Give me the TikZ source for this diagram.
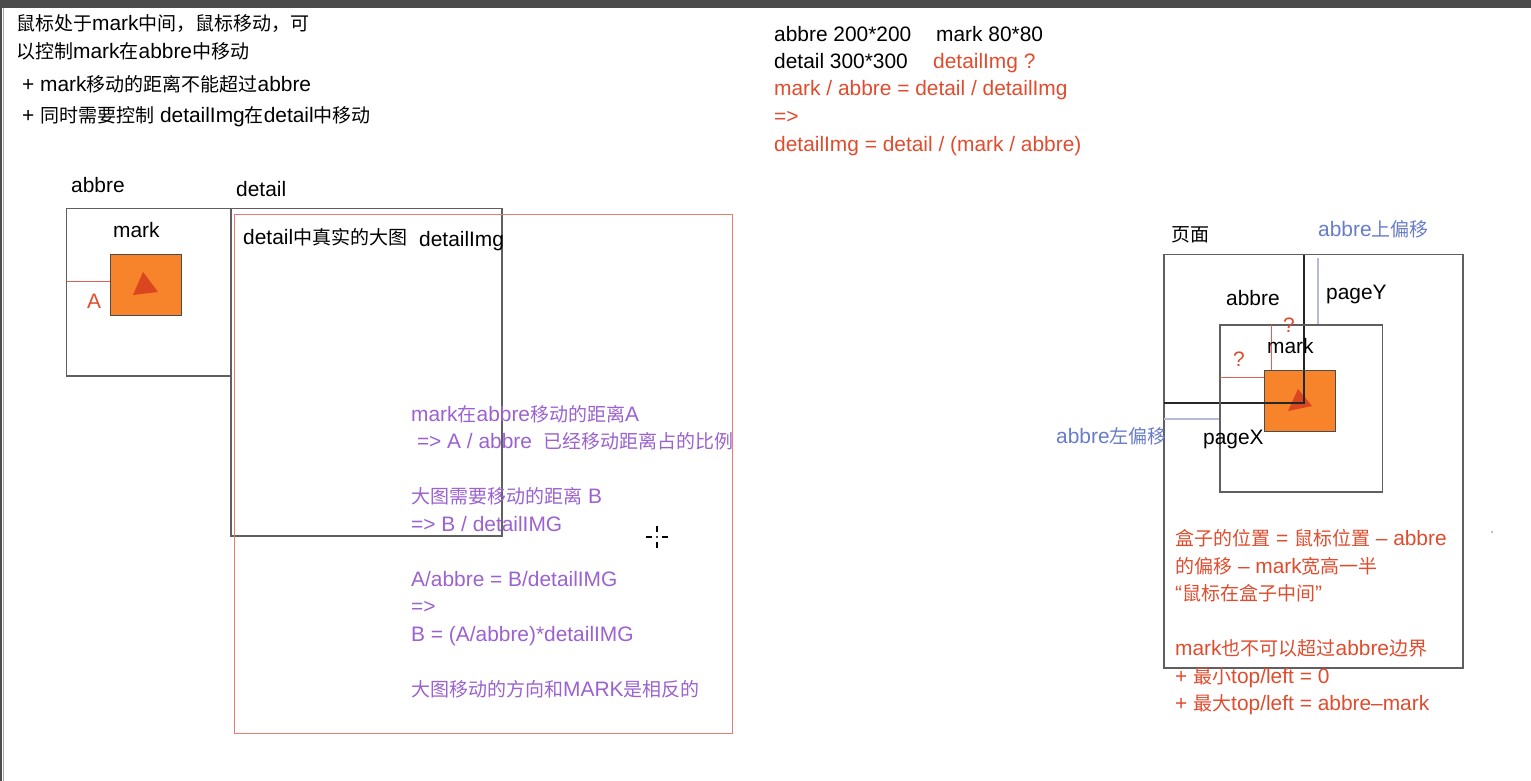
\documentclass[tikz,border=0pt]{standalone}
\usepackage{fontspec}
\setmainfont{Liberation Sans}[Scale=1.1]
\newfontfamily\cjk{Noto Sans CJK SC}
\XeTeXinterchartokenstate=1
\newXeTeXintercharclass\CJKcls
\count255="4E00
\loop\XeTeXcharclass\count255=\CJKcls \advance\count255 by 1 \ifnum\count255<"A000 \repeat
\XeTeXcharclass"FF0C=\CJKcls
\XeTeXinterchartoks 0 \CJKcls={\begingroup\cjk}
\XeTeXinterchartoks 4095 \CJKcls={\begingroup\cjk}
\XeTeXinterchartoks \CJKcls 0={\endgroup}
\XeTeXinterchartoks \CJKcls 4095={\endgroup}
\definecolor{txtred}{RGB}{224,76,46}
\definecolor{txtpurple}{RGB}{155,98,208}
\definecolor{txtblue}{RGB}{104,124,200}
\definecolor{boxgray}{RGB}{95,95,95}
\definecolor{boxred}{RGB}{230,125,115}
\definecolor{linered}{RGB}{225,95,85}
\definecolor{lineblue}{RGB}{180,186,215}
\definecolor{markorange}{RGB}{247,131,42}
\definecolor{tri}{RGB}{218,70,32}
\definecolor{topbar}{RGB}{75,75,75}
\tikzset{
  txt/.style={inner sep=0pt, anchor=base west, align=left, font=\fontsize{19}{27.5}\selectfont},
  frame/.style={draw=boxgray, line width=1.1pt},
  markbox/.style={draw=black!70, line width=1pt, fill=markorange},
  tripath/.style={fill=tri, draw=none},
}
\begin{document}
\begin{tikzpicture}[x=1pt,y=-1pt]
\fill[white] (0,0) rectangle (1531,781);
\useasboundingbox (0,0) rectangle (1531,781);
% window chrome
\fill[topbar] (0,0) rectangle (1531,8);
\fill[topbar] (0,8) rectangle (2,781);
\draw[black!35, line width=0.8pt] (3.5,8) -- (3.5,781);

% top-left notes (base anchor = last line)
\node[txt] (n1) at (16,58.5) {鼠标处于mark中间，鼠标移动，可\\以控制mark在abbre中移动};
\node[txt] (n2) at (22,91.5) {+ mark移动的距离不能超过abbre};
\node[txt] (n3) at (22,122.5) {+ 同时需要控制 detailImg在detail中移动};

% top-middle notes
\node[txt] (s1) at (774,41.5) {abbre 200*200};
\node[txt] (s2) at (936,41.5) {mark 80*80};
\node[txt] (s3) at (774,68.5) {detail 300*300};
\node[txt, text=txtred] (s4) at (933,68.5) {detailImg ?};
\node[txt, text=txtred] (s5) at (774,151) {mark / abbre = detail / detailImg\\=>\\detailImg = detail / (mark / abbre)};

% left diagram
\node[txt] (labA) at (71,192.5) {abbre};
\node[txt] (labD) at (236,196.5) {detail};
\draw[frame] (66.5,208.5) rectangle (231,376) coordinate (abbreBR);
\draw[frame] (231,208.5) rectangle (502,536);
\draw[draw=boxred, line width=1pt] (234.5,214.5) rectangle (732,733.5);
\node[txt] (labM) at (113,237.5) {mark};
\draw[linered, line width=0.8pt] (67,281.5) -- (110,281.5);
\node[txt, text=txtred] (labAA) at (87,308.5) {A};
\draw[markbox] (110,254) rectangle (181,315);
\fill[tripath] (143,272) -- (158,292) -- (133,295) -- cycle;
\node[txt] (dt1) at (243,244.5) {detail中真实的大图};
\node[txt] (dt2) at (419,246.5) {detailImg};

% purple notes
\node[txt, text=txtpurple] (p1) at (411,696) {mark在abbre移动的距离A\\ \ => A / abbre\ \ 已经移动距离占的比例\\[27.5pt]大图需要移动的距离 B\\=> B / detailIMG\\[27.5pt]A/abbre = B/detailIMG\\=>\\B = (A/abbre)*detailIMG\\[27.5pt]大图移动的方向和MARK是相反的};

% cursor crosshair
\coordinate (cur) at (657,537);
\draw[black, line width=2pt] (646,537) -- (652,537) (662,537) -- (668,537) (657,526) -- (657,532) (657,542) -- (657,548);
\fill[black] (cur) circle (1.1pt);

% right diagram
\node[txt] (page) at (1171,241.5) {页面};
\node[txt, text=txtblue] (top) at (1318,236.5) {abbre上偏移};
\draw[frame] (1164,254.5) rectangle (1463,668);
\draw[black!85, line width=1.1pt] (1304,254.5) -- (1304,403) -- (1164,403);
\draw[lineblue, line width=1.1pt] (1318,258) -- (1318,325);
\draw[lineblue, line width=1.1pt] (1164,419) -- (1220,419);
\draw[frame] (1220,325) rectangle (1382.5,492);
\node[txt] (rab) at (1226,305.5) {abbre};
\node[txt] (py) at (1326,299.5) {pageY};
\draw[linered, line width=0.8pt] (1271,325) -- (1271,370);
\draw[linered, line width=0.8pt] (1220,377) -- (1264,377);
\node[txt, text=txtred] (q1) at (1283,332.5) {?};
\node[txt, text=txtred] (q2) at (1233,366.5) {?};
\draw[markbox] (1264,370.5) rectangle (1335,431);
\fill[tripath] (1298,389) -- (1312,406) -- (1288,411) -- cycle;
\draw[black!85, line width=1.1pt] (1304,370.5) -- (1304,403) -- (1264,403);
\node[txt] (rm) at (1267,353.5) {mark};
\node[txt, text=txtblue] (left) at (1056,443.5) {abbre左偏移};
\node[txt] (px) at (1203,444.5) {pageX};

% red notes right
\node[txt, text=txtred] (r1) at (1175,710.5) {盒子的位置 = 鼠标位置 – abbre\\的偏移 – mark宽高一半\\“鼠标在盒子中间”\\[27.5pt]mark也不可以超过abbre边界\\+ 最小top/left = 0\\+ 最大top/left = abbre–mark};

\fill[black!40] (1492,532) circle (1pt);
\end{tikzpicture}
\end{document}
